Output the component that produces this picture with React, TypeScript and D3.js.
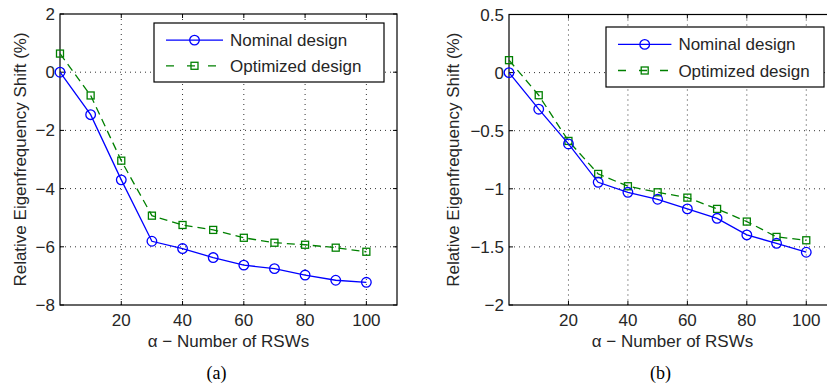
import * as d3 from "d3";

// RSW counts on the x axis
const alphas = [0, 10, 20, 30, 40, 50, 60, 70, 80, 90, 100];
const xTicks = [20, 40, 60, 80, 100];

// (a) relative eigenfrequency shift, %
const nominalA = [0, -1.46, -3.7, -5.81, -6.06, -6.37, -6.63, -6.75, -6.97, -7.15, -7.22];
const optimizedA = [0.64, -0.8, -3.04, -4.93, -5.25, -5.42, -5.69, -5.86, -5.93, -6.03, -6.17];
const yTicksA = [2, 0, -2, -4, -6, -8];

// (b)
const nominalB = [0, -0.315, -0.614, -0.944, -1.03, -1.09, -1.173, -1.254, -1.397, -1.469, -1.546];
const optimizedB = [0.107, -0.195, -0.588, -0.872, -0.978, -1.03, -1.076, -1.173, -1.282, -1.414, -1.443];
const yTicksB = [0.5, 0, -0.5, -1, -1.5, -2];

const BLUE = "#0000ff";
const GREEN = "#008000";
const FONT = "'Liberation Sans', Arial, Helvetica, sans-serif";
const TXT = "#262626";
const FS = 17;

type PanelProps = {
    box: { left: number; right: number; top: number; bottom: number };
    yDomain: [number, number];
    yTicks: number[];
    nominal: number[];
    optimized: number[];
    legend: { x0: number; x1: number; y0: number; y1: number };
    labelOffset: number;
    caption: string;
};

const fmt = (v: number) => String(v).replace("-", "\u2212");

function Panel({ box, yDomain, yTicks, nominal, optimized, legend, labelOffset, caption }: PanelProps) {
    const x = d3.scaleLinear().domain([0, 110]).range([box.left, box.right]);
    const y = d3.scaleLinear().domain(yDomain).range([box.bottom, box.top]);
    const line = d3.line<number>().x((_, i) => x(alphas[i])).y(d => y(d));
    const tk = 4;
    const cx = (box.left + box.right) / 2;

    const lw = legend.x1 - legend.x0;
    const rowH = (legend.y1 - legend.y0) / 2;
    const sx0 = legend.x0 + 12;
    const sx1 = legend.x0 + lw * 0.3;
    const sm = (sx0 + sx1) / 2;
    const r1 = legend.y0 + rowH * 0.58;
    const r2 = legend.y0 + rowH * 1.45;

    return (
        <g>
            {/* grid */}
            {xTicks.map(t => (
                <line key={"gx" + t} x1={x(t)} x2={x(t)} y1={box.top} y2={box.bottom}
                    stroke="#333" strokeWidth={1} strokeDasharray="1,4" />
            ))}
            {yTicks.slice(1, -1).map(t => (
                <line key={"gy" + t} x1={box.left} x2={box.right} y1={y(t)} y2={y(t)}
                    stroke="#333" strokeWidth={1} strokeDasharray="1,4" />
            ))}
            {/* ticks, inward on all sides */}
            {xTicks.map(t => (
                <g key={"tx" + t}>
                    <line x1={x(t)} x2={x(t)} y1={box.bottom} y2={box.bottom - tk} stroke="#000" />
                    <line x1={x(t)} x2={x(t)} y1={box.top} y2={box.top + tk} stroke="#000" />
                    <text x={x(t)} y={box.bottom + 21} textAnchor="middle" fontSize={FS} fill={TXT}>{t}</text>
                </g>
            ))}
            {yTicks.map(t => (
                <g key={"ty" + t}>
                    <line x1={box.left} x2={box.left + tk} y1={y(t)} y2={y(t)} stroke="#000" />
                    <line x1={box.right} x2={box.right - tk} y1={y(t)} y2={y(t)} stroke="#000" />
                    <text x={box.left - 5} y={y(t) + 6} textAnchor="end" fontSize={FS} fill={TXT}>{fmt(t)}</text>
                </g>
            ))}
            <rect x={box.left} y={box.top} width={box.right - box.left} height={box.bottom - box.top}
                fill="none" stroke="#000" strokeWidth={1.2} />

            {/* series */}
            <path d={line(optimized)!} fill="none" stroke={GREEN} strokeWidth={1.3} strokeDasharray="8,5" />
            {optimized.map((v, i) => (
                <rect key={"o" + i} x={x(alphas[i]) - 3.5} y={y(v) - 3.5} width={7} height={7}
                    fill="none" stroke={GREEN} strokeWidth={1.3} />
            ))}
            <path d={line(nominal)!} fill="none" stroke={BLUE} strokeWidth={1.3} />
            {nominal.map((v, i) => (
                <circle key={"n" + i} cx={x(alphas[i])} cy={y(v)} r={4.8}
                    fill="none" stroke={BLUE} strokeWidth={1.3} />
            ))}

            {/* legend */}
            <rect x={legend.x0} y={legend.y0} width={lw} height={legend.y1 - legend.y0}
                fill="#fff" stroke="#000" strokeWidth={1.2} />
            <line x1={sx0} x2={sx1} y1={r1} y2={r1} stroke={BLUE} strokeWidth={1.3} />
            <circle cx={sm} cy={r1} r={4.8} fill="none" stroke={BLUE} strokeWidth={1.3} />
            <line x1={sx0} x2={sx1} y1={r2} y2={r2} stroke={GREEN} strokeWidth={1.3} strokeDasharray="8,13" />
            <rect x={sm - 3.5} y={r2 - 3.5} width={7} height={7} fill="none" stroke={GREEN} strokeWidth={1.3} />
            <text x={sx1 + 7} y={r1 + 6} fontSize={FS} fill={TXT}>Nominal design</text>
            <text x={sx1 + 7} y={r2 + 6} fontSize={FS} fill={TXT}>Optimized design</text>

            {/* axis labels */}
            <text x={cx} y={box.bottom + 42} textAnchor="middle" fontSize={FS} fill={TXT}>
                {"\u03b1 \u2212  Number of RSWs"}
            </text>
            <text transform={`translate(${box.left - labelOffset},${(box.top + box.bottom) / 2}) rotate(-90)`}
                textAnchor="middle" fontSize={FS} fill={TXT}>Relative Eigenfrequency Shift (%)</text>
            <text x={cx - 12} y={379} textAnchor="middle" fontSize={18}
                fontFamily="'Liberation Serif', 'Times New Roman', serif" fill="#000">{caption}</text>
        </g>
    );
}

export default function App() {
    return (
        <svg width={827} height={386} fontFamily={FONT}
            style={{ position: "absolute", left: 0, top: 0, background: "#fff" }}>
            <Panel box={{ left: 60, right: 397, top: 14, bottom: 305 }} yDomain={[-8, 2]} yTicks={yTicksA}
                nominal={nominalA} optimized={optimizedA}
                legend={{ x0: 154, x1: 384, y0: 23, y1: 82 }} labelOffset={34.5} caption="(a)" />
            <Panel box={{ left: 509, right: 836, top: 14.5, bottom: 305 }} yDomain={[-2, 0.5]} yTicks={yTicksB}
                nominal={nominalB} optimized={optimizedB}
                legend={{ x0: 606, x1: 824, y0: 27, y1: 87 }} labelOffset={50} caption="(b)" />
        </svg>
    );
}
